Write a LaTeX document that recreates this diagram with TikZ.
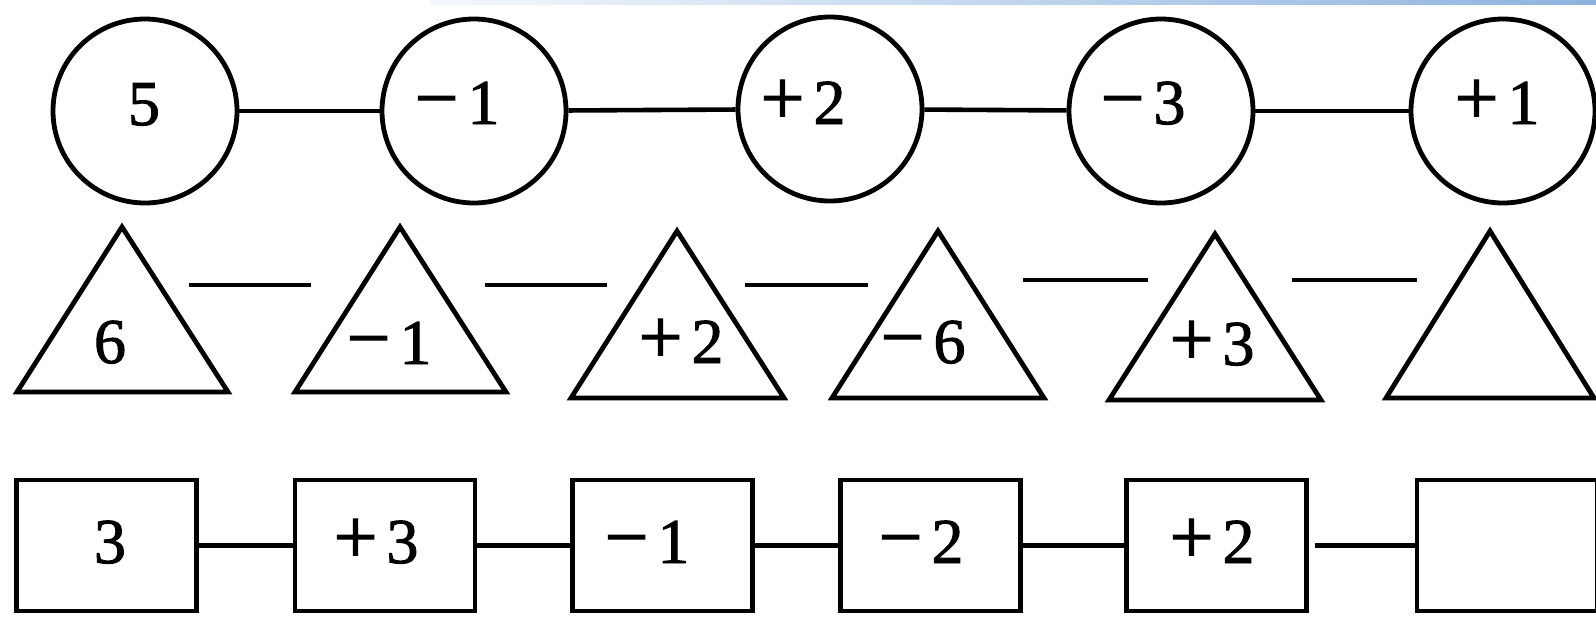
\documentclass[tikz,border=0pt]{standalone}
\usepackage{fontspec}
\setmainfont{Liberation Serif}
\newfontfamily\numfont[FakeBold=1.5]{Liberation Serif}
\usetikzlibrary{shapes.geometric}
\definecolor{bandL}{HTML}{F4F8FC}
\definecolor{bandR}{HTML}{8DB3DE}
\newcommand{\sgn}[2]{{\fontsize{78}{78}\selectfont #1}\hspace{9pt}#2}
\begin{document}
\begin{tikzpicture}[x=1pt,y=-1pt,
  shp/.style={draw, line width=4.8pt},
  circ/.style={shp, circle, minimum size=184pt, inner sep=0pt},
  sq/.style={shp, rectangle, minimum width=180pt, minimum height=131pt, inner sep=0pt},
  tri/.style={line width=4.8pt, line join=miter},
  lbl/.style={font=\numfont\fontsize{64}{72}\selectfont, inner sep=0pt, anchor=base},
  conn/.style={line width=4.6pt}]
\useasboundingbox (0,0) rectangle (1596,616);
\clip (0,0) rectangle (1596,616);
\shade[left color=bandL, right color=bandR] (430,0) rectangle (1596,4);

% circles
\node[circ] (c1) at (145,111) {};
\node[circ] (c2) at (474,111) {};
\node[circ] (c3) at (830,109) {};
\node[circ] (c4) at (1161,111) {};
\node[circ] (c5) at (1503,111) {};
\node[lbl] (lc1) at (144,125) {5};
\node[lbl] (lc2) at (457,124) {\sgn{−}{1}};
\node[lbl] (lc3) at (803,124) {\sgn{+}{2}};
\node[lbl] (lc4) at (1143,124) {\sgn{−}{3}};
\node[lbl] (lc5) at (1497,124) {\sgn{+}{1}};
\draw[conn] (c1) -- (c2);
\draw[conn] (c2) -- (c3);
\draw[conn] (c3) -- (c4);
\draw[conn] (c4) -- (c5);

% triangles
\draw[tri] (17,392) -- (122,227) -- (228,392) -- cycle;
\draw[tri] (295,392) -- (400,227) -- (506,392) -- cycle;
\draw[tri] (571,398) -- (677,231) -- (784,398) -- cycle;
\draw[tri] (832,398) -- (938,231) -- (1044,398) -- cycle;
\draw[tri] (1109,400) -- (1215,234) -- (1321,400) -- cycle;
\draw[tri] (1386,398) -- (1490,231) -- (1594,398) -- cycle;
\node[lbl] (lt1) at (110,363) {6};
\node[lbl] (lt2) at (389,364) {\sgn{−}{1}};
\node[lbl] (lt3) at (681,363) {\sgn{+}{2}};
\node[lbl] (lt4) at (923,363) {\sgn{−}{6}};
\node[lbl] (lt5) at (1212,365) {\sgn{+}{3}};
\coordinate (ta1) at (189,285); \coordinate (tb1) at (311,285);
\coordinate (ta2) at (485,285); \coordinate (tb2) at (607,285);
\coordinate (ta3) at (745,285); \coordinate (tb3) at (868,285);
\coordinate (ta4) at (1023,280); \coordinate (tb4) at (1148,280);
\coordinate (ta5) at (1292,280); \coordinate (tb5) at (1417,280);
\draw[conn] (ta1) -- (tb1);
\draw[conn] (ta2) -- (tb2);
\draw[conn] (ta3) -- (tb3);
\draw[conn] (ta4) -- (tb4);
\draw[conn] (ta5) -- (tb5);

% squares
\node[sq] (s1) at (106.5,545.5) {};
\node[sq] (s2) at (385,545.5) {};
\node[sq] (s3) at (662.5,545.5) {};
\node[sq] (s4) at (930.5,545.5) {};
\node[sq] (s5) at (1216.5,545.5) {};
\node[sq] (s6) at (1507,545.5) {};
\node[lbl] (ls1) at (110,563) {3};
\node[lbl] (ls2) at (376,563) {\sgn{+}{3}};
\node[lbl] (ls3) at (647,563) {\sgn{−}{1}};
\node[lbl] (ls4) at (921,563) {\sgn{−}{2}};
\node[lbl] (ls5) at (1212,563) {\sgn{+}{2}};
\draw[conn] (s1) -- (s2);
\draw[conn] (s2) -- (s3);
\draw[conn] (s3) -- (s4);
\draw[conn] (s4) -- (s5);
\draw[conn, shorten <=6pt] (s5) -- (s6);
\end{tikzpicture}
\end{document}
